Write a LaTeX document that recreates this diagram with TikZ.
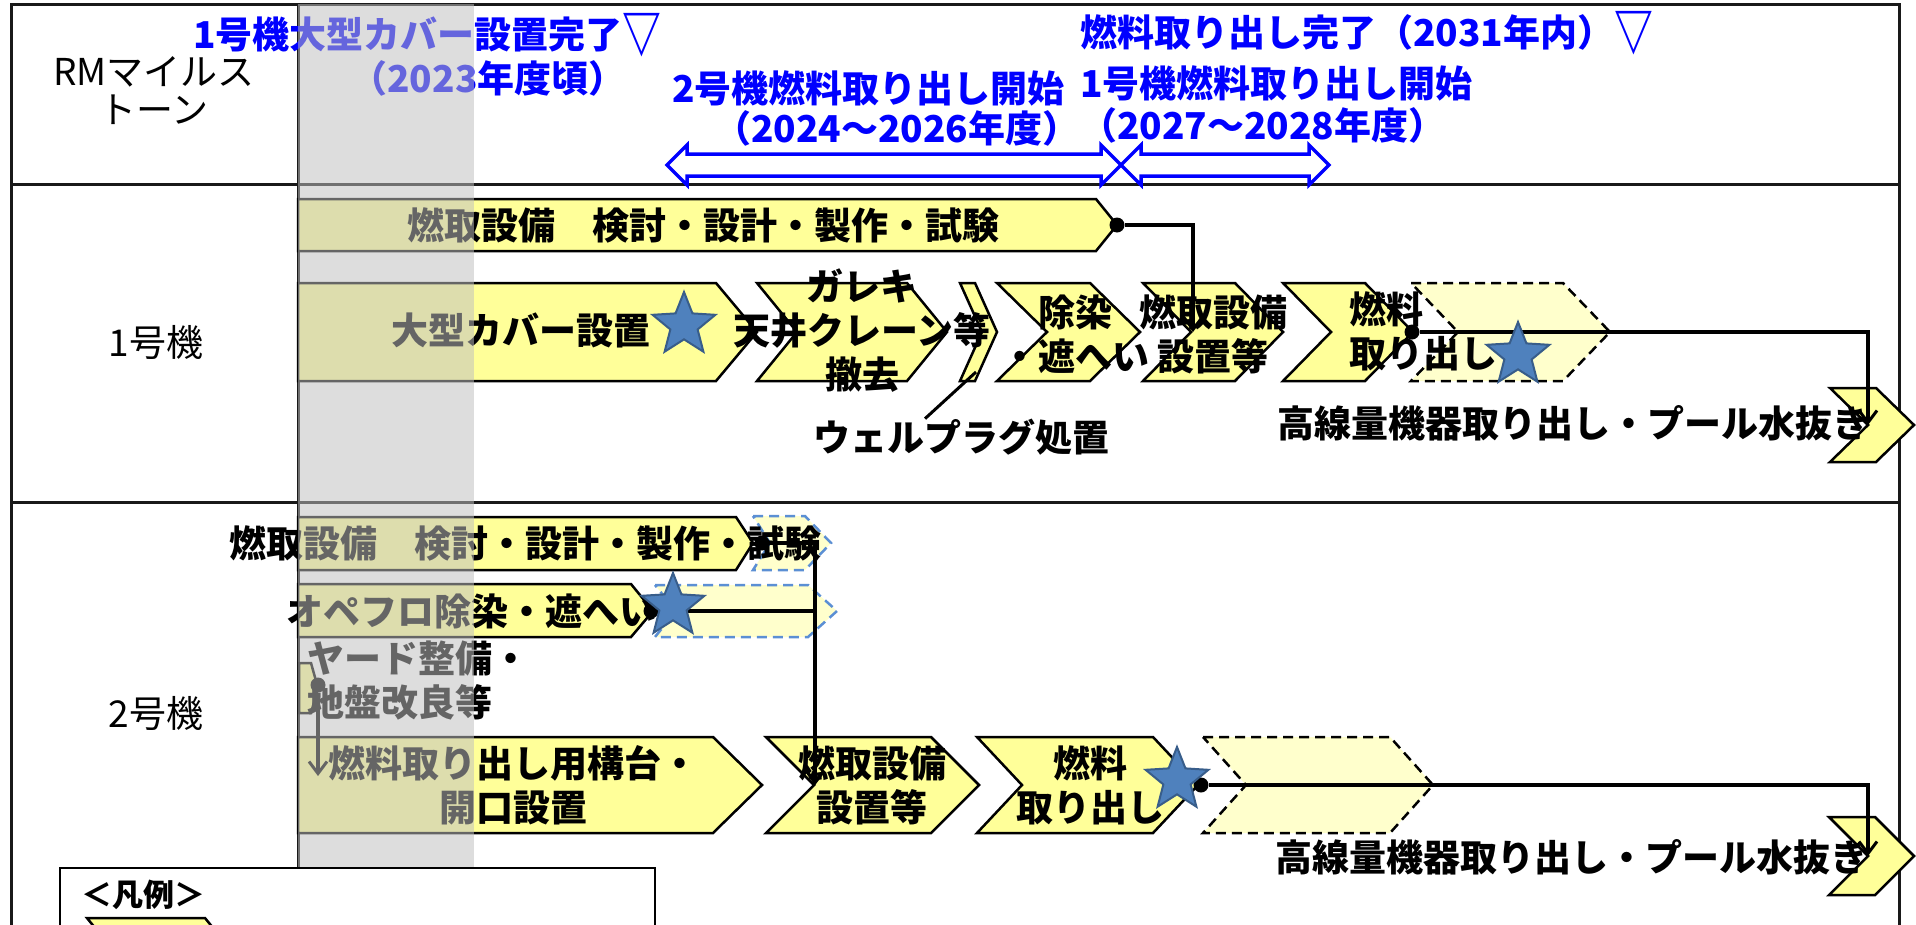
\documentclass[tikz,border=0pt]{standalone}
\usepackage{fontspec}
\setmainfont{Noto Sans CJK JP}
\usepackage{xcolor}
\usetikzlibrary{shapes.geometric, arrows.meta, positioning}
\definecolor{chevyellow}{HTML}{FFFF99}
\definecolor{paleyellow}{HTML}{FFFFCC}
\definecolor{starblue}{HTML}{4F81BD}
\definecolor{stardark}{HTML}{385D8A}
\definecolor{dashblue}{HTML}{5B8FD4}
\definecolor{msblue}{HTML}{0000FF}
\tikzstyle{tbl} = [line width=3pt, black!90]
\tikzstyle{chev} = [draw, fill=chevyellow, line width=2.5pt, line join=miter]
\tikzstyle{plan} = [draw, fill=paleyellow, line width=2.5pt, dash pattern=on 10pt off 6pt]
\tikzstyle{planblue} = [plan, draw=dashblue]
\tikzstyle{lbl} = [inner sep=0pt, align=center, font=\bfseries\fontsize{37}{44}\selectfont]
\tikzstyle{unitlbl} = [inner sep=0pt, align=center, font=\fontsize{37}{38}\selectfont]
\tikzstyle{ms} = [lbl, text=msblue]
\tikzstyle{bluestar} = [star, star points=5, star point ratio=2.3, minimum size=66pt, inner sep=0pt, fill=starblue, draw=stardark, line width=2pt]
\tikzstyle{flow} = [draw=black, line width=3.5pt, -{Straight Barb[length=12pt,width=18pt,line width=3pt]}]
\tikzstyle{jdot} = [circle, fill, inner sep=0pt, minimum size=15pt]
\tikzstyle{period} = [msblue, line width=3.5pt, line join=miter]
\newcommand{\tri}{\raisebox{-5pt}{\scalebox{1.05}[1.45]{▽}}}

\begin{document}
\begin{tikzpicture}[x=1pt, y=-1pt]
        \useasboundingbox (0,0) rectangle (1916,924);
        \fill[white] (0,0) rectangle (1916,924);
        \draw[tbl] (11,4) rectangle (1899,980);
        \draw[tbl] (11,184) -- (1899,184);
        \draw[tbl] (11,502) -- (1899,502);
        \draw[tbl] (298,4) -- (298,980);
        \node[unitlbl] (rm) at (154,91) {RMマイルス\\トーン};
        \node[unitlbl] (unit1) at (156,342) {1号機};
        \node[unitlbl] (unit2) at (156,713) {2号機};
        \node[ms, anchor=west] (m1cover) at (193,35) {1号機大型カバー設置完了\tri};
        \node[ms] (m1date) at (488,78) {（2023年度頃）};
        \node[ms, anchor=west] (m2start) at (672,88) {2号機燃料取り出し開始};
        \node[ms, anchor=west] (m2date) at (714,128) {（2024～2026年度）};
        \node[ms, anchor=west] (mend) at (1080,33) {燃料取り出し完了（2031年内）\tri};
        \node[ms, anchor=west] (m1start) at (1080,83) {1号機燃料取り出し開始};
        \node[ms, anchor=west] (m1span) at (1080,125) {（2027～2028年度）};
        \draw[period] (667,165) -- (687,145) -- (687,154) -- (1101,154) -- (1101,145) -- (1121,165) -- (1101,185) -- (1101,176) -- (687,176) -- (687,185) -- cycle;
        \draw[period] (1121,165) -- (1141,145) -- (1141,154) -- (1309,154) -- (1309,145) -- (1329,165) -- (1309,185) -- (1309,176) -- (1141,176) -- (1141,185) -- cycle;
        \draw[chev] (298,199) -- (1096,199) -- (1117,225) -- (1096,251) -- (298,251) -- cycle;
        \draw[chev] (298,283) -- (716,283) -- (757,332) -- (716,381) -- (298,381) -- cycle;
        \draw[chev] (757,283) -- (907,283) -- (947,332) -- (907,381) -- (757,381) -- (797,332) -- cycle;
        \draw[chev] (960,283) -- (975,283) -- (997,332) -- (975,381) -- (960,381) -- (982,332) -- cycle;
        \draw[chev] (997,283) -- (1090,283) -- (1140,332) -- (1090,381) -- (997,381) -- (1047,332) -- cycle;
        \draw[chev] (1143,283) -- (1235,283) -- (1283,332) -- (1235,381) -- (1143,381) -- (1191,332) -- cycle;
        \draw[chev] (1283,283) -- (1365,283) -- (1413,332) -- (1365,381) -- (1283,381) -- (1331,332) -- cycle;
        \draw[plan] (1411,283) -- (1563,283) -- (1610,332) -- (1563,381) -- (1411,381) -- (1458,332) -- cycle;
        \draw[chev] (1830,388) -- (1876,388) -- (1914,425) -- (1876,462) -- (1830,462) -- (1868,425) -- cycle;
        \node[lbl] (r1fuel) at (703,225) {燃取設備　検討・設計・製作・試験};
        \node[lbl] (r1cover) at (521,330) {大型カバー設置};
        \node[lbl] (r1crane) at (862,331) {ガレキ\\天井クレーン等\\撤去};
        \node[lbl] (r1plug) at (961,437) {ウェルプラグ処置};
        \node[lbl] (r1decon) at (1075,334) {除染\\・遮へい};
        \node[lbl] (r1equip) at (1213,334) {燃取設備\\設置等};
        \node[lbl, anchor=west, align=left] (r1take) at (1349,331) {燃料\\取り出し};
        \node[lbl] (r1high) at (1573,423) {高線量機器取り出し・プール水抜き};
        \coordinate (plugtip) at (976,372);
        \draw[line width=3pt] ([xshift=-36pt]r1plug.north) -- (plugtip);
        \node[jdot] (r1d1) at (1117,225) {};
        \coordinate (r1n1) at (1193,332);
        \draw[flow] (r1d1) -| (r1n1);
        \node[jdot] (r1d2) at (1412,332) {};
        \coordinate (r1n2) at (1868,425);
        \draw[flow] (r1d2) -| (r1n2);
        \node[bluestar] (r1s1) at (684,325) {};
        \node[bluestar] (r1s2) at (1518,355) {};
        \draw[chev] (298,517) -- (736,517) -- (753,543) -- (736,570) -- (298,570) -- cycle;
        \draw[planblue] (753,516) -- (805,516) -- (831,543) -- (805,570) -- (753,570) -- (770,543) -- cycle;
        \draw[chev] (298,584) -- (631,584) -- (653,611) -- (631,637) -- (298,637) -- cycle;
        \draw[planblue] (655,585) -- (808,585) -- (837,611) -- (808,637) -- (655,637) -- (676,611) -- cycle;
        \draw[chev] (299,663) -- (311,663) -- (318,688) -- (311,713) -- (299,713) -- cycle;
        \draw[chev] (298,737) -- (713,737) -- (762,785) -- (713,833) -- (298,833) -- cycle;
        \draw[chev] (766,737) -- (931,737) -- (979,785) -- (931,833) -- (766,833) -- (814,785) -- cycle;
        \draw[chev] (977,737) -- (1153,737) -- (1198,785) -- (1153,833) -- (977,833) -- (1022,785) -- cycle;
        \draw[plan] (1203,737) -- (1390,737) -- (1433,785) -- (1390,833) -- (1203,833) -- (1246,785) -- cycle;
        \draw[chev] (1829,817) -- (1875,817) -- (1914,856) -- (1875,895) -- (1829,895) -- (1868,856) -- cycle;
        \node[lbl] (r2fuel) at (525,543) {燃取設備　検討・設計・製作・試験};
        \node[lbl] (r2floor) at (471,611) {オペフロ除染・遮へい};
        \node[lbl, anchor=west, align=left] (r2yard) at (307,681) {ヤード整備・\\地盤改良等};
        \node[lbl] (r2deck) at (513,785) {燃料取り出し用構台・\\開口設置};
        \node[lbl] (r2equip) at (872,785) {燃取設備\\設置等};
        \node[lbl] (r2take) at (1090,785) {燃料\\取り出し};
        \node[lbl] (r2high) at (1571,857) {高線量機器取り出し・プール水抜き};
        \node[jdot] (r2d1) at (762,543) {};
        \node[jdot] (r2d2) at (651,611) {};
        \coordinate (r2n1) at (815,785);
        \draw[flow] (r2d1) -| (r2n1);
        \draw[flow] (r2d2) -| (r2n1);
        \node[jdot] (r2d3) at (318,685) {};
        \coordinate (r2n0) at (318,776);
        \draw[flow] (r2d3) -- (r2n0);
        \node[jdot] (r2d4) at (1201,785) {};
        \coordinate (r2n2) at (1868,856);
        \draw[flow] (r2d4) -| (r2n2);
        \node[bluestar] (r2s1) at (673,606) {};
        \node[bluestar] (r2s2) at (1177,780) {};
        \fill[black!25, opacity=0.53] (298,4) rectangle (474,924);
        \draw[line width=2.5pt, fill=white] (60,868) rectangle (655,980);
        \node[lbl, font=\bfseries\fontsize{31}{36}\selectfont] (key) at (143,895) {＜凡例＞};
        \draw[chev] (87,918) -- (205,918) -- (227,945) -- (205,972) -- (87,972) -- (109,945) -- cycle;
\end{tikzpicture}
\end{document}
